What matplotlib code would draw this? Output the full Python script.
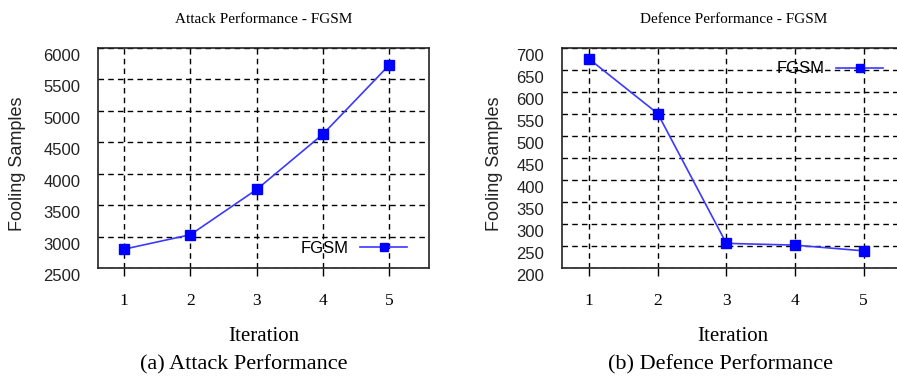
import matplotlib
matplotlib.use("Agg")
import matplotlib.pyplot as plt
import matplotlib.transforms as mtrans

# ---- data ----
iterations = [1, 2, 3, 4, 5]
attack_fgsm = [2800, 3030, 3750, 4630, 5730]
defence_fgsm = [675, 551, 256, 252, 239]
attack_yticks = [2500, 3000, 3500, 4000, 4500, 5000, 5500, 6000]
defence_yticks = [200, 250, 300, 350, 400, 450, 500, 550, 600, 650, 700]
titles = ["Attack Performance - FGSM", "Defence Performance - FGSM"]
captions = ["(a) Attack Performance", "(b) Defence Performance"]
series_name = "FGSM"

SERIF = "Liberation Serif"
SANS = "Liberation Sans"

W, H = 897, 381
fig = plt.figure(figsize=(W / 100, H / 100), dpi=100)

def px_rect(x0, x1, ytop, ybot):
    return [x0 / W, 1 - ybot / H, (x1 - x0) / W, (ybot - ytop) / H]

ax1 = fig.add_axes(px_rect(97.7, 429.0, 48, 268))
ax2 = fig.add_axes(px_rect(561.7, 904.7, 48, 268))

specs = [
    (ax1, attack_fgsm, attack_yticks, (0.934, 0.09), 0),
    (ax2, defence_fgsm, defence_yticks, (0.937, 0.905), 1),
]

for ax, vals, yt, legpos, i in specs:
    ax.plot(iterations, vals, color="#3a3aff", lw=1.2, marker="s",
            markersize=7.5, markerfacecolor="#0000ff", markeredgecolor="#0000ff",
            label=series_name, zorder=5)
    ax.set_xlim(0.6, 5.6)
    ax.set_ylim(yt[0], yt[-1])
    ax.set_xticks(iterations)
    ax.set_yticks(yt)
    ax.grid(True, color="black", linestyle=(0, (4, 3)), linewidth=1.0)
    ax.set_axisbelow(True)
    for s in ax.spines.values():
        s.set_linewidth(1.2)
        s.set_color("#222222")
    ax.tick_params(axis="x", direction="out", length=6, width=1.0, pad=12,
                   labelsize=12.5, color="black")
    for lab in ax.get_xticklabels():
        lab.set_fontfamily(SERIF)
    ax.tick_params(axis="y", length=0, labelleft=False)
    # y tick labels (drawn slightly lower than the grid lines, as in the reference)
    off = mtrans.ScaledTranslation(-17.5 / 100, -8.5 / 100, fig.dpi_scale_trans)
    trans = mtrans.blended_transform_factory(ax.transAxes, ax.transData) + off
    for v in yt:
        ax.text(0, v, str(v), transform=trans, ha="right", va="center",
                fontsize=12, family=SANS, color="#222222", clip_on=False)
    ax.set_title(titles[i], family=SERIF, fontsize=11, pad=18)
    ax.set_xlabel("Iteration", family=SERIF, fontsize=15)
    ax.xaxis.set_label_coords(0.5, -0.31)
    ax.xaxis.label.set_va("center")
    leg = ax.legend(loc="center right", bbox_to_anchor=legpos, frameon=False,
                    markerfirst=False, handlelength=2.8, handletextpad=0.7,
                    borderaxespad=0, borderpad=0, markerscale=0.85,
                    prop={"family": SANS, "size": 12})

fig.text(18 / W, 1 - 164 / H, "Fooling Samples", rotation=90, family=SANS,
         fontsize=13, ha="center", va="center", color="#222222")
fig.text(494 / W, 1 - 164 / H, "Fooling Samples", rotation=90, family=SANS,
         fontsize=13, ha="center", va="center", color="#222222")

fig.text(244 / W, 1 - 365 / H, captions[0], family=SERIF, fontsize=16,
         ha="center", va="center")
fig.text(720 / W, 1 - 365 / H, captions[1], family=SERIF, fontsize=16,
         ha="center", va="center")

fig.savefig("out.png", dpi=100)
